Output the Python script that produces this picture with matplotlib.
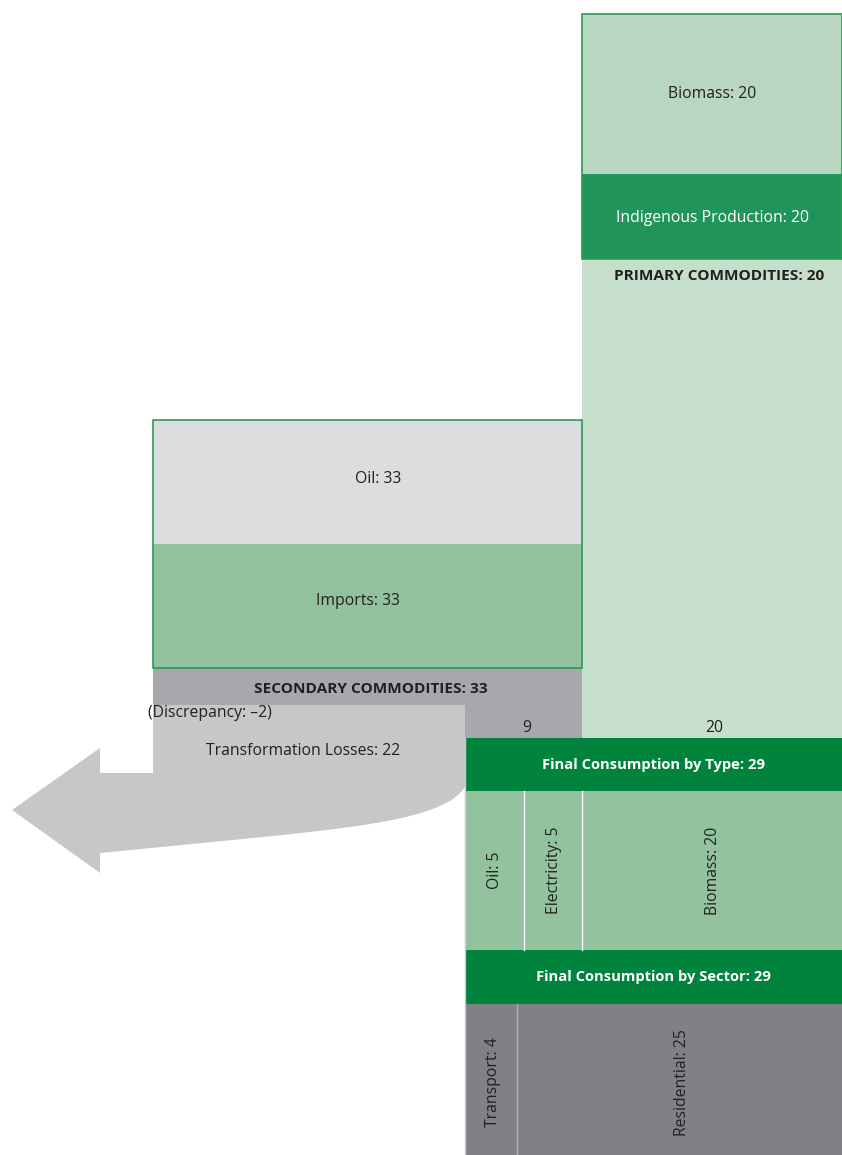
import matplotlib.pyplot as plt
from matplotlib.patches import Rectangle, PathPatch
from matplotlib.path import Path

# energy balance values (PJ)
primary_labels = ["Biomass"]
primary_values = [20]
indigenous_production = 20
secondary_labels = ["Oil"]
secondary_values = [33]
imports = 33
discrepancy = -2
transformation_losses = 22
flow_secondary_to_final = 9
flow_primary_to_final = 20
type_labels = ["Oil", "Electricity", "Biomass"]
type_values = [5, 5, 20]
sector_labels = ["Transport", "Residential"]
sector_values = [4, 25]
final_total = 29

# colours
C_PRIM_TOP = "#b8d6c0"
C_INDIG = "#21945a"
C_PRIM = "#c5dfcc"
C_SEC_OIL = "#dcdddf"
C_IMPORTS = "#92c29d"
C_SEC = "#a7a8ac"
C_LOSS = "#c6c7c9"
C_FINAL = "#00843d"
C_TYPE = "#93c39e"
C_SECTOR = "#808185"
C_EDGE = "#2a9a55"
C_TEXT = "#231f20"

plt.rcParams['font.family'] = ['Open Sans', 'DejaVu Sans']
FS = 11.3      # normal labels
FS_CAPS = 11.1  # bold commodity headings
FS_BAND = 10.6  # white band headings

# layout (pixels)
X_RIGHT = 842
SCALE = 13.0  # px per unit
Y_PRIM_TOP, Y_PRIM_SPLIT, Y_PRIM_BOT = 14, 174, 259
Y_SEC_TOP, Y_SEC_SPLIT, Y_SEC_BOT = 420, 544, 668
Y_LOSS_TOP, Y_FINAL_TOP, Y_TYPE_TOP = 705, 738, 791
Y_SECTOR_BAND, Y_SECTOR_TOP, Y_BOTTOM = 950, 1004, 1155

prim_total = sum(primary_values)
sec_total = sum(secondary_values)
prim_left = X_RIGHT - prim_total * SCALE
sec_left = prim_left - sec_total * SCALE
final_left = X_RIGHT - final_total * SCALE

fig = plt.figure(figsize=(8.42, 11.55), dpi=100)
ax = fig.add_axes([0, 0, 1, 1])
ax.set_xlim(0, 842)
ax.set_ylim(1155, 0)
ax.axis('off')


def box(x0, x1, y0, y1, color, **kw):
    ax.add_patch(Rectangle((x0, y0), x1 - x0, y1 - y0, facecolor=color,
                           edgecolor='none', **kw))


def label(x, y, s, color=C_TEXT, size=FS, weight='normal', rot=0, ha='center'):
    ax.text(x, y, s, color=color, fontsize=size, fontweight=weight,
            rotation=rot, ha=ha, va='center')


# primary column
box(prim_left, X_RIGHT, Y_PRIM_BOT, Y_FINAL_TOP, C_PRIM)
box(prim_left, X_RIGHT, Y_PRIM_TOP, Y_PRIM_SPLIT, C_PRIM_TOP)
box(prim_left, X_RIGHT, Y_PRIM_SPLIT, Y_PRIM_BOT, C_INDIG)
ax.add_patch(Rectangle((prim_left, Y_PRIM_TOP), X_RIGHT - prim_left,
                       Y_PRIM_BOT - Y_PRIM_TOP, facecolor='none',
                       edgecolor=C_EDGE, lw=1.2))
pc = (prim_left + X_RIGHT) / 2
label(pc, (Y_PRIM_TOP + Y_PRIM_SPLIT) / 2,
      f"{primary_labels[0]}: {primary_values[0]}")
label(pc, (Y_PRIM_SPLIT + Y_PRIM_BOT) / 2 + 1,
      f"Indigenous Production: {indigenous_production}", color='white')
label(pc + 7, Y_PRIM_BOT + 17, f"PRIMARY COMMODITIES: {prim_total}",
      size=FS_CAPS, weight='bold')

# secondary column
box(sec_left, prim_left, Y_SEC_BOT, Y_FINAL_TOP, C_SEC)
box(sec_left, prim_left, Y_SEC_TOP, Y_SEC_SPLIT, C_SEC_OIL)
box(sec_left, prim_left, Y_SEC_SPLIT, Y_SEC_BOT, C_IMPORTS)
ax.add_patch(Rectangle((sec_left, Y_SEC_TOP), prim_left - sec_left,
                       Y_SEC_BOT - Y_SEC_TOP, facecolor='none',
                       edgecolor=C_EDGE, lw=1.2))
sc = (sec_left + prim_left) / 2
label(sc + 11, (Y_SEC_TOP + Y_SEC_SPLIT) / 2 - 3,
      f"{secondary_labels[0]}: {secondary_values[0]}")
label(sc - 10, (Y_SEC_SPLIT + Y_SEC_BOT) / 2 - 5, f"Imports: {imports}")
label(sc + 3, Y_SEC_BOT + 21, f"SECONDARY COMMODITIES: {sec_total}",
      size=FS_CAPS, weight='bold')

# transformation losses arrow
verts = [(sec_left, Y_LOSS_TOP), (final_left, Y_LOSS_TOP), (final_left, 787),
         (440, 825), (330, 830), (100, 853),
         (100, 873), (12, 810), (100, 748), (100, 773), (sec_left, 773),
         (sec_left, Y_LOSS_TOP)]
codes = [Path.MOVETO, Path.LINETO, Path.LINETO,
         Path.CURVE4, Path.CURVE4, Path.CURVE4,
         Path.LINETO, Path.LINETO, Path.LINETO, Path.LINETO, Path.LINETO,
         Path.CLOSEPOLY]
ax.add_patch(PathPatch(Path(verts, codes), facecolor=C_LOSS, edgecolor='none'))
disc = f"{discrepancy}".replace("-", "\u2013")
label(sec_left - 5, Y_LOSS_TOP + 8, f"(Discrepancy: {disc})", ha='left')
label((sec_left + final_left) / 2 - 6, 751,
      f"Transformation Losses: {transformation_losses}")

# flows into final consumption
label((final_left + prim_left) / 2 + 3, 728, f"{flow_secondary_to_final}")
label(pc + 2, 728, f"{flow_primary_to_final}")

# final consumption by type
box(final_left, X_RIGHT, Y_FINAL_TOP, Y_TYPE_TOP, C_FINAL)
label((final_left + X_RIGHT) / 2, (Y_FINAL_TOP + Y_TYPE_TOP) / 2 + 1,
      f"Final Consumption by Type: {final_total}", color='white',
      size=FS_BAND, weight='bold')
box(final_left, X_RIGHT, Y_TYPE_TOP, Y_SECTOR_BAND, C_TYPE)
# biomass lines up with the primary column, the rest shares the 9 flow
rest_w = (prim_left - final_left) / sum(type_values[:-1])
edges = [final_left]
for v in type_values[:-1]:
    edges.append(edges[-1] + v * rest_w)
edges.append(X_RIGHT)
ty = (Y_TYPE_TOP + Y_SECTOR_BAND) / 2
for i, (lab, v) in enumerate(zip(type_labels, type_values)):
    if i > 0:
        ax.plot([edges[i], edges[i]], [Y_TYPE_TOP, Y_SECTOR_BAND],
                color='white', lw=1)
    label((edges[i] + edges[i + 1]) / 2 + 1, ty, f"{lab}: {v}", rot=90)

# final consumption by sector
box(final_left, X_RIGHT, Y_SECTOR_BAND, Y_SECTOR_TOP, C_FINAL)
label((final_left + X_RIGHT) / 2, (Y_SECTOR_BAND + Y_SECTOR_TOP) / 2,
      f"Final Consumption by Sector: {sum(sector_values)}", color='white',
      size=FS_BAND, weight='bold')
box(final_left, X_RIGHT, Y_SECTOR_TOP, Y_BOTTOM, C_SECTOR)
sx = final_left
sy = (Y_SECTOR_TOP + Y_BOTTOM) / 2
for i, (lab, v) in enumerate(zip(sector_labels, sector_values)):
    w = v * (X_RIGHT - final_left) / sum(sector_values)
    if i > 0:
        ax.plot([sx, sx], [Y_SECTOR_TOP, Y_BOTTOM], color='#b0b1b4', lw=1)
    label(sx + w / 2 + 2, sy + 3, f"{lab}: {v}", rot=90)
    sx += w
ax.plot([final_left, final_left], [Y_FINAL_TOP, Y_BOTTOM], color='#c9cacc',
        lw=1)

fig.savefig("out.png", dpi=100)
